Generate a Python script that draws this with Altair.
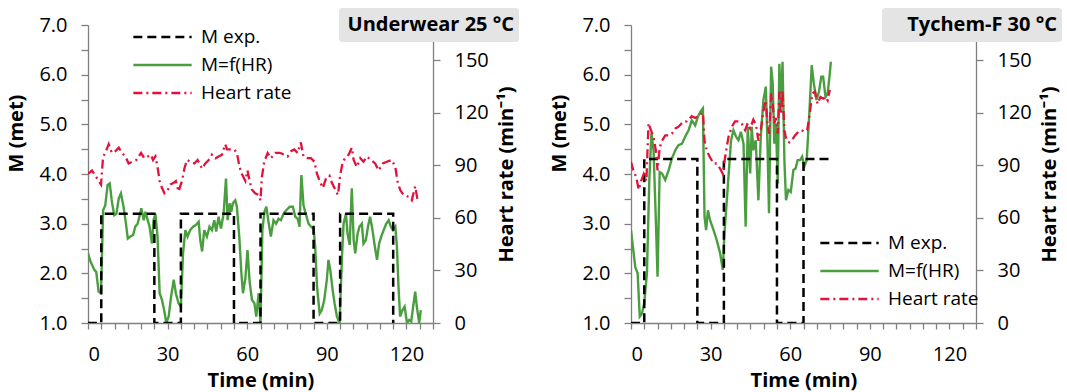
import altair as alt
import pandas as pd

SERIES = ["M exp.", "M=f(HR)", "Heart rate"]
COLORS = ["#000000", "#4a9e3f", "#e2123c"]
DASHES = [[9, 5], [1, 0], [9, 4, 2, 4]]
WIDTHS = [2.5, 2.3, 2.5]
FONT = "Open Sans"

# ---- Underwear 25 °C ----
uw_exp_t = [0, 5, 5, 25, 25, 35, 35, 55, 55, 65, 65, 85, 85, 95, 95, 115, 115]
uw_exp_m = [1.0, 1.0, 3.2, 3.2, 1.0, 1.0, 3.2, 3.2, 1.0, 1.0, 3.2, 3.2, 1.0, 1.0, 3.2, 3.2, 1.0]

uw_fit_t = [0, 1, 2.4, 3.1, 4, 4.9, 5.7, 6.5, 7.4, 8.2,
            9, 9.9, 10.7, 11.6, 12.4, 13.4, 14.3, 15, 16, 17,
            17.8, 18.7, 19.5, 20.1, 21, 21.6, 22.5, 23.2, 24.1, 24.7,
            25.4, 26.2, 27, 27.9, 28.8, 29.5, 30.4, 31.3, 32.3, 33.1,
            34.1, 35, 35.8, 36.7, 37.5, 38.5, 39.6, 40.6, 41.7, 42.3,
            43, 43.8, 44.8, 45.8, 46.7, 47.6, 48.3, 49.2, 50.1, 51.1,
            52, 52.6, 53.4, 54, 54.6, 55.5, 56.1, 57, 57.8, 58.4,
            59.3, 60.1, 60.9, 61.8, 62.7, 63.4, 64.3, 65, 65.7, 66.5,
            67.2, 68, 68.9, 69.9, 70.9, 71.8, 72.7, 73.7, 74.7, 76,
            77.2, 78.1, 79, 79.7, 80.4, 81.2, 82.2, 83.1, 84, 85,
            85.6, 86.3, 87.3, 88.1, 89, 90, 90.6, 91.3, 92.2, 92.9,
            93.8, 94.8, 95.7, 96.3, 97.2, 97.8, 98.6, 99.4, 100.1, 100.7,
            101.6, 102.3, 103.2, 103.8, 104.7, 105.5, 106.3, 107.2, 108, 108.9,
            109.7, 110.5, 111.4, 112.4, 113.3, 114.1, 114.9, 115.8, 116.4, 117,
            117.6, 118.5, 119.3, 120.2, 121, 121.8, 122.7, 123.3, 123.9, 124.8,
            125.4]
uw_fit_m = [2.40, 2.23, 2.07, 2.03, 1.63, 1.60, 3.27, 3.37, 3.78, 3.81,
            3.44, 3.17, 3.20, 3.51, 3.61, 3.34, 3.00, 2.70, 2.74, 2.77,
            2.94, 3.00, 3.17, 3.31, 3.07, 3.24, 3.07, 2.94, 2.60, 3.07,
            3.20, 2.74, 1.60, 1.46, 1.23, 1.00, 1.13, 1.53, 1.87, 1.60,
            1.40, 1.33, 2.40, 2.87, 2.74, 2.87, 2.94, 2.97, 3.04, 2.67,
            2.44, 2.87, 2.74, 2.94, 2.87, 3.07, 2.84, 3.14, 2.90, 3.20,
            3.91, 3.07, 3.41, 3.24, 3.41, 3.47, 3.34, 2.74, 2.00, 1.60,
            1.90, 2.47, 1.83, 1.46, 1.40, 1.13, 1.60, 1.00, 2.87, 3.24,
            3.34, 3.04, 2.74, 3.07, 3.00, 3.10, 3.07, 3.20, 3.27, 3.34,
            3.34, 3.14, 3.10, 2.94, 3.98, 3.37, 3.17, 3.00, 2.94, 2.90,
            2.54, 1.73, 1.19, 1.26, 1.46, 1.87, 2.27, 2.07, 1.66, 1.40,
            1.13, 1.00, 2.33, 3.00, 3.20, 2.80, 2.57, 3.71, 2.67, 2.40,
            2.80, 2.94, 3.00, 2.60, 2.67, 2.94, 3.14, 2.87, 2.57, 2.27,
            2.60, 2.74, 2.87, 3.00, 3.07, 2.94, 2.87, 2.94, 2.54, 1.73,
            1.13, 1.26, 1.33, 1.00, 1.06, 1.03, 1.40, 1.63, 1.33, 1.00,
            1.26]

uw_hr_t = [0, 1.5, 2.8, 4, 4.9, 5.7, 6.5, 7.8, 9, 10.3,
           11.6, 12.8, 14.1, 15.3, 16.6, 18.2, 20, 21.2, 22.5, 23.7,
           24.5, 25.4, 26.2, 27, 27.9, 28.8, 29.8, 31, 32.3, 33.1,
           34.1, 35.4, 36.3, 37.3, 38.5, 40.1, 41.3, 43, 44.2, 45.5,
           46.7, 48, 49.2, 50.5, 51.7, 52.4, 53.4, 54.2, 55.1, 56.1,
           57.1, 58, 59.3, 60.1, 60.9, 61.8, 63, 64.3, 65, 65.5,
           66.4, 67.7, 68.9, 70.6, 72.4, 74, 75.2, 76.5, 77.7, 79,
           80.2, 81.2, 82.7, 84, 85.3, 86.3, 87.3, 88.5, 89.8, 91,
           91.9, 93.2, 94.2, 95, 96, 96.9, 98.2, 99.4, 100.1, 101.3,
           102.6, 103.8, 105.1, 106.6, 108.2, 109.5, 111.1, 112.6, 114.5, 115.8,
           116.6, 117.6, 118.9, 120.8, 122, 123.3, 124.2]
uw_hr = [85, 87, 84, 81, 79, 95, 97, 102, 97, 98,
         100, 97, 95, 91, 92, 93, 97, 94, 95, 96,
         93, 95, 89, 81, 77, 74, 75, 79, 80, 81,
         75, 81, 88, 93, 92, 91, 93, 88, 91, 93,
         96, 94, 95, 96, 102, 99, 99, 99, 99, 97,
         89, 85, 81, 87, 81, 76, 74, 73, 70, 83,
         92, 97, 94, 97, 97, 96, 95, 98, 99, 97,
         103, 95, 94, 94, 92, 85, 81, 77, 83, 84,
         80, 76, 73, 84, 92, 94, 96, 100, 93, 89,
         94, 92, 95, 93, 91, 87, 91, 92, 93, 89,
         81, 76, 73, 72, 70, 78, 70]

# ---- Tychem-F 30 °C ----
ty_exp_t = [0, 5, 5, 25, 25, 35, 35, 55, 55, 65, 65, 75]
ty_exp_m = [1.0, 1.0, 4.3, 4.3, 1.0, 1.0, 4.3, 4.3, 1.0, 1.0, 4.3, 4.3]

ty_fit_t = [0, 0.7, 1.6, 2.5, 3.3, 4.1, 5, 6, 6.9, 7.7,
            8.5, 9.4, 10, 10.8, 11.7, 12.9, 14.2, 15.4, 16.7, 17.9,
            19.2, 20.4, 21.7, 22.9, 24.2, 25.2, 26.1, 27.1, 27.7, 28.3,
            29, 29.8, 31.1, 32.3, 33.6, 34.6, 35.2, 36.1, 37, 37.7,
            38.6, 39.6, 40.5, 41.4, 42.4, 43.2, 44, 44.9, 45.5, 46.1,
            47, 48, 48.9, 49.9, 50.8, 51.4, 52, 52.8, 53.4, 54,
            54.6, 55.3, 55.9, 56.5, 57.1, 57.8, 58.4, 59.3, 60.2, 61.2,
            62, 62.8, 63.7, 64.5, 65.3, 66.2, 67.2, 68.1, 68.9, 69.9,
            70.8, 71.7, 72.4, 73.3, 74.1, 74.9, 75.3]
ty_fit_m = [2.87, 2.54, 2.13, 2.00, 1.13, 1.19, 1.40, 2.00, 3.88, 4.82,
            4.48, 3.00, 1.93, 4.04, 4.01, 3.88, 4.08, 4.31, 4.48, 4.58,
            4.61, 4.75, 4.88, 5.08, 4.98, 5.15, 5.25, 5.32, 3.14, 2.87,
            3.27, 3.07, 2.87, 2.67, 2.40, 2.07, 2.80, 3.47, 4.15, 4.68,
            4.88, 4.75, 4.68, 4.85, 4.61, 2.94, 4.95, 4.01, 4.95, 4.48,
            4.68, 3.47, 4.75, 5.49, 5.76, 4.68, 3.21, 6.16, 5.82, 4.61,
            5.02, 3.81, 6.22, 5.35, 6.26, 4.28, 3.47, 3.68, 3.64, 4.08,
            4.11, 4.28, 4.28, 4.35, 4.15, 4.28, 5.22, 6.19, 5.82, 5.49,
            5.65, 5.96, 5.96, 5.55, 5.62, 6.02, 6.26]

ty_hr_t = [0, 0.7, 2, 2.9, 3.8, 4.8, 5.8, 6.6, 7.5, 8.5,
           9.4, 10, 10.8, 11.7, 12.9, 14.2, 15.4, 16.7, 17.9, 19.8,
           21, 22.9, 24.2, 25.2, 26.1, 27.1, 27.7, 28.6, 29.6, 31.1,
           32.3, 33.6, 34.6, 35.5, 36.7, 38, 39.2, 40.5, 41.7, 43,
           44, 44.9, 46.1, 47.1, 48, 48.9, 49.9, 50.8, 51.4, 52.1,
           52.8, 53.4, 54, 54.6, 55.3, 55.9, 56.5, 57.1, 57.8, 58.6,
           59.7, 60.5, 61.8, 63, 64.3, 65.5, 66.4, 67.4, 68.3, 69.3,
           70.3, 71.4, 72.4, 73.4, 74.1, 74.9]
ty_hr = [92, 88, 83, 76, 81, 85, 81, 114, 110, 106,
         98, 87, 100, 104, 107, 107, 108, 111, 112, 115,
         115, 118, 117, 118, 119, 120, 104, 98, 95, 91,
         91, 88, 85, 95, 106, 112, 115, 115, 114, 110,
         114, 111, 116, 113, 104, 110, 121, 127, 114, 108,
         131, 125, 114, 117, 108, 132, 119, 133, 110, 104,
         103, 104, 107, 109, 110, 109, 110, 120, 131, 132,
         125, 129, 128, 129, 127, 133]

M_TICKS = [1.0, 1.5, 2.0, 2.5, 3.0, 3.5, 4.0, 4.5, 5.0, 5.5, 6.0, 6.5, 7.0]
HR_TICKS = [0, 30, 60, 90, 120, 150]
T_TICKS = list(range(0, 131, 5))

W, H = 345, 298


def frame(t, v, name):
    return pd.DataFrame({"t": t, "v": v, "series": name, "order": range(len(t))})


def panel(label, exp_t, exp_m, fit_t, fit_m, hr_t, hr_v, leg_x, leg_y):
    x = alt.X("t:Q", scale=alt.Scale(domain=[0, 130], nice=False, zero=False),
              axis=alt.Axis(values=T_TICKS, title="Time (min)", format="d",
                            labelExpr="datum.value % 30 === 0 ? datum.label : ''",
                            tickSize=6, labelPadding=15, titlePadding=6))
    legend = alt.Legend(title=None, orient="none", legendX=leg_x, legendY=leg_y,
                        symbolType="stroke", symbolSize=3400, symbolStrokeWidth=2.5,
                        labelFont=FONT, labelFontSize=19, labelColor="black",
                        labelOffset=8, clipHeight=20, rowPadding=8)
    color = alt.Color("series:N", scale=alt.Scale(domain=SERIES, range=COLORS), legend=legend)
    dash = alt.StrokeDash("series:N", scale=alt.Scale(domain=SERIES, range=DASHES), legend=legend)
    width = alt.StrokeWidth("series:N", scale=alt.Scale(domain=SERIES, range=WIDTHS), legend=None)
    y_met = alt.Y("v:Q", scale=alt.Scale(domain=[1, 7], nice=False, zero=False),
                  axis=alt.Axis(values=M_TICKS, title="M (met)",
                                labelExpr="datum.value % 1 === 0 ? format(datum.value, '.1f') : ''",
                                tickSize=7, labelPadding=14, titlePadding=12, titleY=108))
    y_hr = alt.Y("v:Q", scale=alt.Scale(domain=[0, 170], nice=False),
                 axis=alt.Axis(values=HR_TICKS, orient="right", title="Heart rate  (min⁻¹)",
                               titleAngle=270, titleBaseline="top", tickSize=7,
                               labelPadding=14, titlePadding=8))

    enc = dict(x=x, color=color, strokeDash=dash, strokeWidth=width, order="order:Q")
    fit = alt.Chart(frame(fit_t, fit_m, SERIES[1])).mark_line(clip=True).encode(y=y_met, **enc)
    exp = alt.Chart(frame(exp_t, exp_m, SERIES[0])).mark_line(clip=True).encode(y=y_met, **enc)
    hr = alt.Chart(frame(hr_t, hr_v, SERIES[2])).mark_line(clip=True).encode(y=y_hr, **enc)

    tag = pd.DataFrame({"label": [label]})
    box = alt.Chart(tag).mark_rect(color="#e4e4e4", cornerRadius=3).encode(
        x=alt.value(W - 94), x2=alt.value(W + 86), y=alt.value(-17), y2=alt.value(17))
    txt = alt.Chart(tag).mark_text(font=FONT, fontSize=20, fontWeight="bold", align="right",
                                   baseline="middle", color="black").encode(
        x=alt.value(W + 81), y=alt.value(0), text="label:N")

    met = alt.layer(fit, exp)
    return (alt.layer(met, hr, box, txt)
            .resolve_scale(y="independent")
            .properties(width=W, height=H))


left = panel("Underwear 25 °C", uw_exp_t, uw_exp_m, uw_fit_t, uw_fit_m, uw_hr_t, uw_hr, 44, 2)
right = panel("Tychem-F 30 °C", ty_exp_t, ty_exp_m, ty_fit_t, ty_fit_m, ty_hr_t, ty_hr, 188, 208)

chart = (alt.hconcat(left, right, spacing=30)
         .resolve_scale(color="independent", strokeDash="independent", strokeWidth="independent")
         .resolve_legend(color="independent", strokeDash="independent")
         .properties(padding={"left": 6, "top": 8, "right": 2, "bottom": 2})
         .configure_view(stroke=None)
         .configure_axis(grid=False, labelFont=FONT, titleFont=FONT, labelFontSize=20,
                         titleFontSize=20, titleFontWeight="bold", labelColor="black",
                         titleColor="black", domainColor="#808080", tickColor="#808080",
                         domainWidth=1.3, tickWidth=1.3))

chart.save("out.html", embed_options={"renderer": "svg", "actions": False})
